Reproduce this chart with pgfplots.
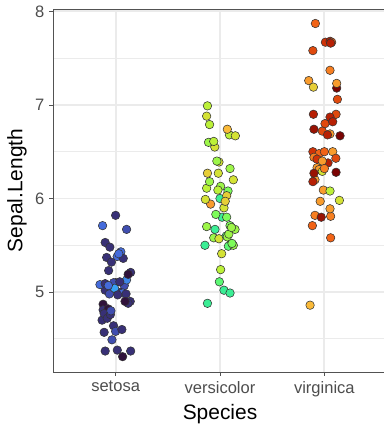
\documentclass[border=0pt]{standalone}
\usepackage{fontspec}
\setmainfont{Liberation Sans}
\usepackage{pgfplots}
\usepackage{pgfplotstable}
\pgfplotsset{compat=1.18}
\definecolor{gridc}{HTML}{EBEBEB}
\definecolor{gtwenty}{HTML}{333333}
\definecolor{gthirty}{HTML}{4D4D4D}

\pgfplotstableread{
x y w
1.00 5.10 0.2
1.14 4.90 0.2
0.87 4.70 0.2
0.98 4.64 0.2
0.90 5.02 0.2
1.05 5.43 0.4
1.00 4.58 0.3
1.05 5.00 0.2
0.90 4.37 0.2
0.88 4.87 0.1
0.914 5.37 0.2
0.88 4.81 0.2
0.93 4.82 0.1
1.067 4.31 0.1
1.00 5.82 0.2
0.875 5.71 0.4
1.015 5.38 0.4
0.98 5.10 0.3
1.105 5.67 0.3
1.083 5.07 0.3
1.073 5.36 0.2
0.85 5.08 0.4
0.89 4.57 0.2
1.105 5.13 0.5
0.89 4.77 0.2
0.96 5.03 0.2
1.07 4.99 0.4
0.933 5.23 0.2
1.144 5.21 0.2
0.92 4.72 0.2
0.95 4.76 0.2
1.03 5.41 0.4
1.12 5.19 0.1
0.90 5.53 0.2
1.12 4.88 0.2
1.10 4.98 0.2
0.945 5.48 0.2
1.09 4.90 0.1
1.016 4.38 0.2
0.90 5.09 0.2
0.94 4.98 0.3
0.965 4.49 0.3
1.144 4.37 0.2
0.99 5.04 0.6
0.93 5.07 0.4
0.955 4.80 0.3
1.04 5.11 0.2
1.06 4.60 0.2
0.96 5.32 0.2
1.02 4.97 0.2
}\setosa

\pgfplotstableread{
x y w
1.88 6.99 1.4
1.99 6.39 1.5
1.872 6.88 1.5
2.10 5.51 1.3
1.95 6.55 1.5
1.872 5.70 1.3
1.88 6.27 1.6
1.88 4.88 1.0
1.89 6.60 1.3
2.006 5.24 1.4
2.038 5.02 1.0
2.038 5.90 1.5
2.00 6.00 1.0
1.872 6.11 1.4
1.94 5.58 1.3
2.09 6.68 1.4
1.99 5.57 1.5
2.02 5.80 1.0
2.128 6.20 1.5
2.06 5.60 1.1
1.91 5.94 1.8
2.006 6.13 1.3
1.984 6.27 1.5
2.077 6.08 1.2
1.97 6.40 1.3
1.94 6.61 1.4
1.90 6.79 1.4
2.07 6.74 1.7
1.86 5.99 1.5
1.952 5.67 1.0
2.08 5.49 1.1
1.856 5.50 1.0
1.96 5.83 1.2
2.064 6.03 1.6
2.016 5.41 1.5
2.05 5.97 1.6
2.147 6.67 1.5
2.096 6.32 1.3
2.07 5.59 1.3
2.128 5.50 1.3
2.115 5.52 1.2
1.98 6.09 1.4
2.064 5.80 1.2
2.096 4.99 1.0
2.085 5.62 1.3
2.096 5.71 1.2
2.144 5.67 1.3
1.90 6.18 1.3
1.994 5.11 1.1
2.11 5.69 1.3
}\versicolor

\pgfplotstableread{
x y w
3.112 6.28 2.5
2.91 5.82 1.9
3.125 7.06 2.1
2.93 6.33 1.8
2.89 6.50 2.2
2.89 7.58 2.1
2.863 4.86 1.7
2.85 7.26 1.8
3.054 6.69 1.8
3.118 7.18 2.5
2.95 6.48 2.0
2.90 6.44 1.9
3.006 6.80 2.1
2.885 5.71 2.0
2.97 5.80 2.4
3.035 6.38 2.3
3.08 6.50 1.8
3.01 7.67 2.2
3.055 7.68 2.3
3.144 5.98 1.5
2.895 6.90 2.3
3.06 5.58 2.0
3.07 7.67 2.0
2.95 6.31 1.8
2.98 6.72 2.1
3.118 7.23 1.8
2.91 6.20 1.8
2.99 6.09 1.8
3.11 6.43 2.1
2.895 7.19 1.6
3.054 7.37 1.9
2.914 7.87 2.0
2.93 6.42 2.2
2.98 6.29 1.5
3.054 6.08 1.4
3.06 7.66 2.3
2.90 6.27 2.4
2.98 6.40 1.8
2.96 5.97 1.8
3.112 6.90 2.1
2.90 6.74 2.4
3.054 6.87 2.3
3.06 5.81 1.9
3.08 6.82 2.3
3.15 6.67 2.5
3.03 6.68 2.3
3.00 6.32 1.9
3.00 6.50 2.0
2.89 6.18 2.3
3.054 5.89 1.8
}\virginica

\begin{document}
\begin{tikzpicture}
\begin{axis}[
  at={(0,0)}, anchor=south west,
  scale only axis,
  width=250.5pt, height=272.25pt,
  xmin=0.4, xmax=3.6,
  ymin=4.146, ymax=8.025,
  xtick={1,2,3},
  xticklabels={setosa,versicolor,virginica},
  ytick={5,6,7,8},
  minor ytick={4.5,5.5,6.5,7.5},
  grid=both,
  major grid style={draw=gridc, line width=1.4pt},
  minor grid style={draw=gridc, line width=0.7pt},
  axis line style={draw=gtwenty!85, line width=0.6pt},
  tick style={draw=gtwenty!85, line width=0.6pt},
  tick align=outside,
  major tick length=2.75pt,
  minor tick length=0pt,
  xtick pos=bottom, ytick pos=left,
  tick label style={font=\fontsize{12.4}{14}\selectfont, text=gthirty},
  /pgf/number format/assume math mode=true,
  xticklabel style={yshift=-0.5pt},
  yticklabel style={xshift=-0.3pt},
  xlabel={Species},
  ylabel={Sepal.Length},
  every axis x label/.style={at={(axis description cs:0.5,0)}, yshift=-31.5pt, anchor=center, font=\fontsize{15.7}{18}\selectfont},
  every axis y label/.style={at={(axis description cs:0,0.5)}, xshift=-27pt, rotate=90, anchor=center, font=\fontsize{15.7}{18}\selectfont},
  colormap={turbo}{rgb255=(48,18,59) rgb255=(70,98,215) rgb255=(54,170,249) rgb255=(26,228,182) rgb255=(114,254,94) rgb255=(199,239,52) rgb255=(250,186,57) rgb255=(246,107,25) rgb255=(203,42,4) rgb255=(122,4,3)},
  point meta min=0.1, point meta max=2.5,
  clip=false,
]
\addplot[scatter, only marks, mark=*, mark size=3.2pt, point meta=explicit,
  scatter/use mapped color={draw=black!80, fill=mapped color, line width=0.4pt}]
  table[x=x, y=y, meta=w]{\setosa};
\addplot[scatter, only marks, mark=*, mark size=3.2pt, point meta=explicit,
  scatter/use mapped color={draw=black!80, fill=mapped color, line width=0.4pt}]
  table[x=x, y=y, meta=w]{\versicolor};
\addplot[scatter, only marks, mark=*, mark size=3.2pt, point meta=explicit,
  scatter/use mapped color={draw=black!80, fill=mapped color, line width=0.4pt}]
  table[x=x, y=y, meta=w]{\virginica};
\end{axis}
\pgfresetboundingbox
\useasboundingbox (-39.75pt,-39.75pt) rectangle (247.5pt,279pt);
\end{tikzpicture}
\end{document}
